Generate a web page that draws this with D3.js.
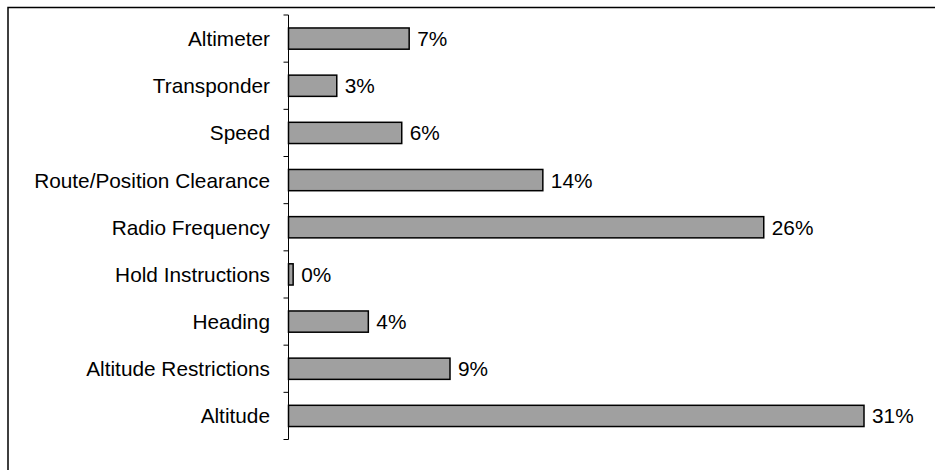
<!DOCTYPE html>
<html><head><meta charset="utf-8">
<script src="https://cdn.jsdelivr.net/npm/d3@7"></script>
<style>body{margin:0;background:#fff}svg{display:block}</style>
</head><body>
<svg id="c" width="935" height="470"></svg>
<script>
const categories = ["Altimeter","Transponder","Speed","Route/Position Clearance","Radio Frequency","Hold Instructions","Heading","Altitude Restrictions","Altitude"];
const values = [6.5, 2.6, 6.1, 13.7, 25.6, 0.25, 4.3, 8.7, 31.0];
const valueLabels = ["7%","3%","6%","14%","26%","0%","4%","9%","31%"];

const svg = d3.select("#c");
svg.append("rect").attr("x",8).attr("y",7.5).attr("width",1000).attr("height",1000)
  .attr("fill","none").attr("stroke","#000").attr("stroke-width",1.5);

const x0 = 288.5, y0 = 15, y1 = 439.5;
const x = d3.scaleLinear().domain([0,31]).range([x0, 864]);
const y = d3.scaleBand().domain(categories).range([y0,y1]).paddingInner(0.55).paddingOuter(0.275);

const g = svg.append("g");
g.selectAll("rect.bar").data(categories).join("rect").attr("class","bar")
  .attr("x", x(0)).attr("y", d=>y(d))
  .attr("width", (d,i)=>x(values[i])-x(0)).attr("height", y.bandwidth())
  .attr("fill","#a0a0a0").attr("stroke","#000").attr("stroke-width",1.5);

const bounds = d3.range(categories.length+1).map(i=>y0 + i*(y1-y0)/categories.length);
svg.append("line").attr("x1",x0).attr("x2",x0).attr("y1",y0).attr("y2",y1).attr("stroke","#000").attr("stroke-width",1);
svg.selectAll("line.tick").data(bounds).join("line").attr("class","tick")
  .attr("x1",x0-5).attr("x2",x0).attr("y1",d=>d).attr("y2",d=>d).attr("stroke","#000").attr("stroke-width",1);

svg.selectAll("text.cat").data(categories).join("text").attr("class","cat")
  .attr("x", 270).attr("y", d=>y(d)+y.bandwidth()/2).attr("dy","0.36em")
  .attr("text-anchor","end").attr("font-family","Liberation Sans, Arial, sans-serif").attr("font-size",20.8)
  .attr("fill","#000").text(d=>d);

svg.selectAll("text.val").data(categories).join("text").attr("class","val")
  .attr("x",(d,i)=>x(values[i])+8).attr("y", d=>y(d)+y.bandwidth()/2).attr("dy","0.36em")
  .attr("font-family","Liberation Sans, Arial, sans-serif").attr("font-size",20.8)
  .attr("fill","#000").text((d,i)=>valueLabels[i]);
</script>
</body></html>
